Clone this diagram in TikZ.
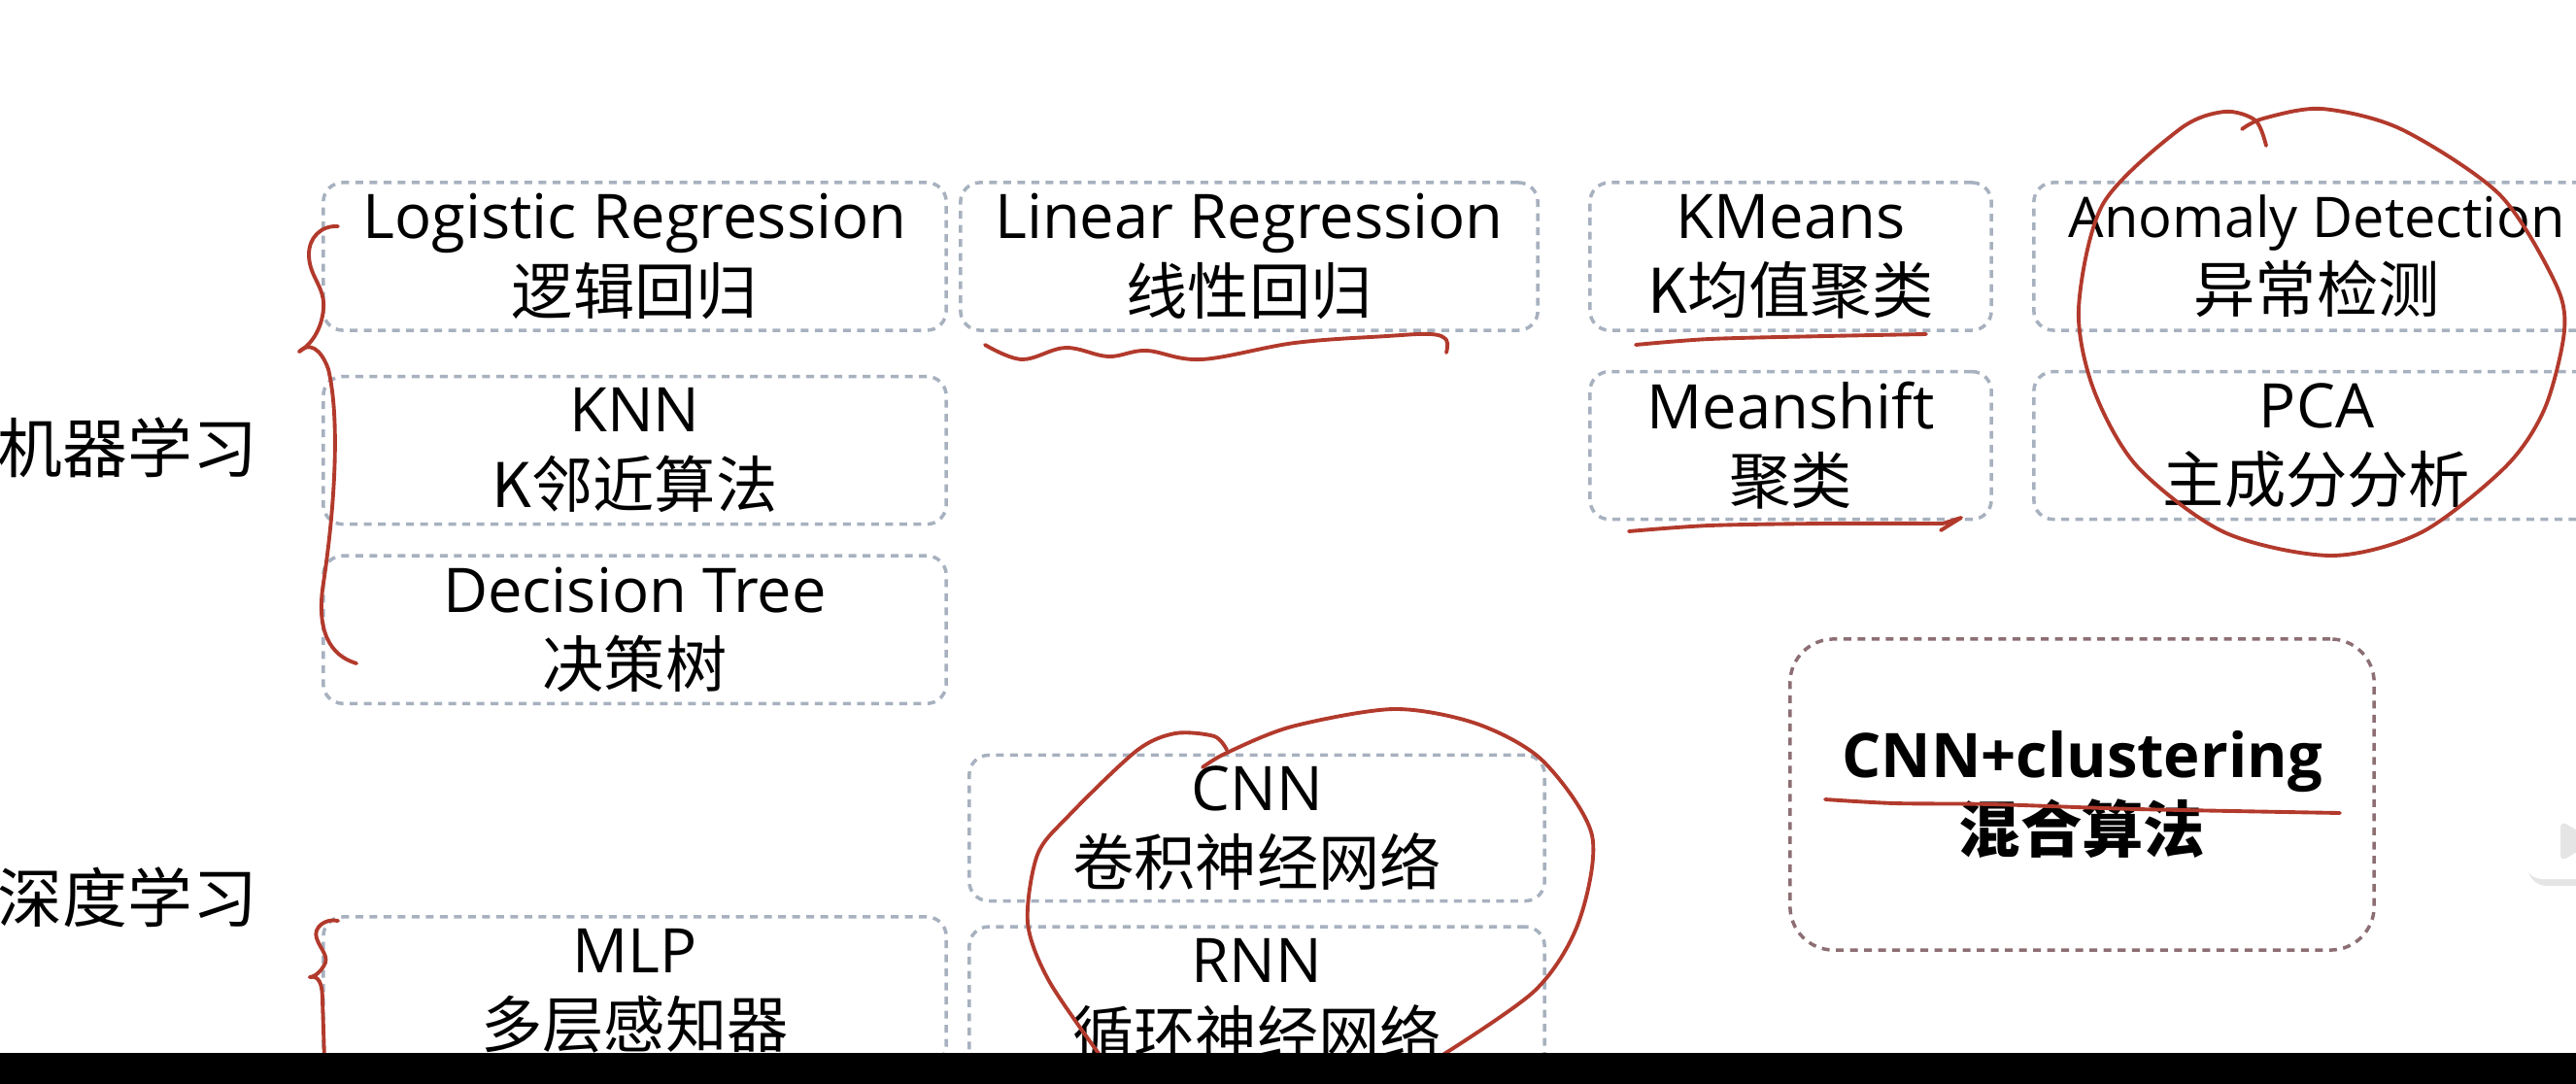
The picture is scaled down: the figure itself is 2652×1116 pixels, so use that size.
\documentclass[tikz,border=0pt]{standalone}
\usepackage{fontspec}
\setmainfont{Open Sans}
\newfontfamily\cjk{Noto Sans CJK SC}
\usetikzlibrary{positioning}
\definecolor{boxline}{HTML}{A7B1BF}
\definecolor{mixline}{HTML}{8C6E73}
\definecolor{inkred}{HTML}{B23A2C}

\begin{document}
\begin{tikzpicture}[
    x=0.01cm, y=-0.01cm,
    algbox/.style={draw=boxline, dash pattern=on 0.08cm off 0.065cm, line width=0.035cm, rounded corners=0.2cm, inner sep=0pt, minimum height=1.52cm, align=center, font=\fontsize{18}{22}\selectfont},
    mixbox/.style={algbox, draw=mixline, rounded corners=0.45cm, minimum width=6.01cm, minimum height=3.2cm},
    grouplabel/.style={inner sep=0pt, anchor=west, font=\cjk\fontsize{19}{22}\selectfont},
    ink/.style={draw=inkred, line width=1.1pt, line cap=round, line join=round}
]
\useasboundingbox (0,0) rectangle (2652,1116);
\clip (0,0) rectangle (2652,1116);

\node (mllabel) [grouplabel] at (-3,461) {机器学习};
\node (dllabel) [grouplabel] at (-3,924) {深度学习};

\node (logreg) [algbox, minimum width=6.41cm] at (653.5,264) {Logistic Regression\\{\cjk 逻辑回归}};
\node (knn) [algbox, minimum width=6.41cm, below=0.44cm of logreg] {KNN\\{\cjk K邻近算法}};
\node (dtree) [algbox, minimum width=6.41cm, below=0.29cm of knn] {Decision Tree\\{\cjk 决策树}};
\node (mlp) [algbox, minimum width=6.41cm] at (653.5,1020) {MLP\\{\cjk 多层感知器}};

\node (linreg) [algbox, minimum width=5.94cm] at (1286,264) {Linear Regression\\{\cjk 线性回归}};
\node (cnn) [algbox, minimum width=5.92cm, minimum height=1.5cm] at (1294,852.5) {CNN\\{\cjk 卷积神经网络}};
\node (rnn) [algbox, minimum width=5.92cm, below=0.23cm of cnn] {RNN\\{\cjk 循环神经网络}};

\node (kmeans) [algbox, minimum width=4.13cm] at (1843.5,264) {KMeans\\{\cjk K均值聚类}};
\node (meanshift) [algbox, minimum width=4.13cm, below=0.39cm of kmeans] {Meanshift\\{\cjk 聚类}};
\node (anomaly) [algbox, minimum width=5.82cm] at (2385,264) {{\fontsize{16.4}{22}\selectfont Anomaly Detection}\\{\cjk 异常检测}};
\node (pca) [algbox, minimum width=5.82cm, below=0.39cm of anomaly] {PCA\\{\cjk 主成分分析}};

\node (hybrid) [mixbox] at (2143.5,818) {\bfseries CNN+clustering\\{\cjk\bfseries 混合算法}};

\draw[ink] (348,233) .. controls (330,232) and (318,245) .. (318,262) .. controls (318,285) and (335,295) .. (333,318) .. controls (331,340) and (320,355) .. (308,362);
\draw[ink] (308,362) .. controls (318,352) and (330,358) .. (338,380) .. controls (350,430) and (345,520) .. (333,600) .. controls (325,650) and (340,675) .. (367,683);
\draw[ink] (348,948) .. controls (335,945) and (322,955) .. (326,966) .. controls (330,978) and (340,985) .. (333,995) .. controls (328,1003) and (322,1006) .. (319,1006);
\draw[ink] (319,1006) .. controls (328,1004) and (332,1012) .. (332,1030) -- (334,1090);

\draw[ink] plot[smooth, tension=0.6] coordinates {(1014,355) (1052,370) (1097,358) (1141,367) (1180,361) (1237,370) (1333,353) (1428,346) (1473,344) (1489,350) (1489,363)};
\draw[ink] plot[smooth] coordinates {(1684,355) (1760,349) (1880,346) (1983,344)};
\draw[ink] plot[smooth] coordinates {(1677,547) (1760,541) (1880,539) (2000,539)} -- (2019,533) -- (1998,546);
\draw[ink] plot[smooth] coordinates {(1879,823) (1950,827) (2050,828) (2200,833) (2409,837)};

\draw[ink] plot[smooth] coordinates {(2308,133) (2330,122) (2390,112) (2472,133) (2573,200) (2630,290) (2640,340) (2620,420) (2580,480) (2493,548) (2400,572) (2290,548) (2200,480) (2155,400) (2140,317) (2165,210) (2244,133) (2290,115) (2322,124) (2333,150)};

\draw[ink] plot[smooth] coordinates {(1238,790) (1263,775) (1330,748) (1435,730) (1520,745) (1588,783) (1639,860) (1625,950) (1580,1020) (1479,1090)};
\draw[ink] plot[smooth] coordinates {(1135,1090) (1080,1010) (1058,950) (1068,880) (1100,840) (1170,773) (1210,755) (1250,758) (1263,772)};

\fill[black] (0,1084) rectangle (2652,1116);

\fill[black!10, rounded corners=0.2cm] (2602,826) rectangle (2720,912);
\fill[white, rounded corners=0.2cm] (2598,820) rectangle (2720,905);
\draw[white, line width=0.06cm, line cap=round] (2626,808) -- (2640,824);
\fill[black!10, rounded corners=2pt] (2636,845) -- (2672,866) -- (2636,887) -- cycle;
\end{tikzpicture}
\end{document}
